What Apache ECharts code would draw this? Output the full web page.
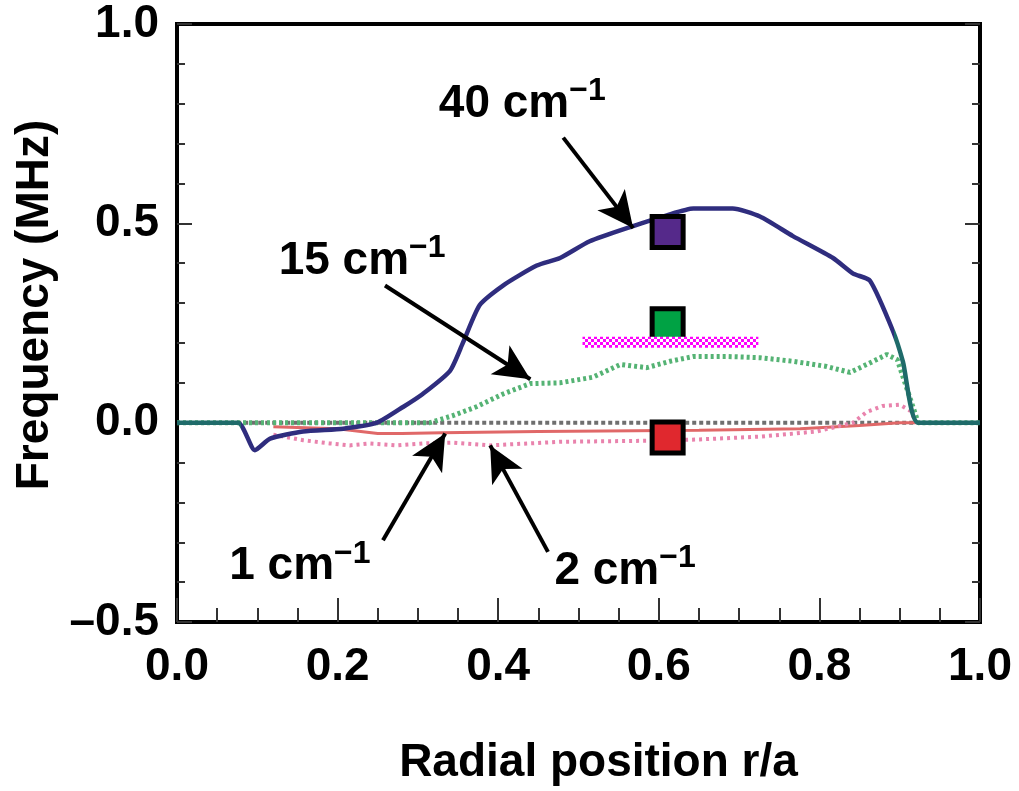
<!DOCTYPE html>
<html>
<head>
<meta charset="utf-8">
<script src="https://cdn.jsdelivr.net/npm/echarts@6/dist/echarts.min.js"></script>
<style>html,body{margin:0;padding:0;background:#fff;}#c{width:1019px;height:791px;}</style>
</head>
<body>
<div id="c"></div>
<script>
// ---- data ----
var k40X = [0, 0.076, 0.097, 0.116, 0.157, 0.207, 0.249, 0.282, 0.306, 0.34, 0.356, 0.377, 0.406, 0.448, 0.477, 0.514, 0.568, 0.61, 0.643, 0.692, 0.726, 0.767, 0.817, 0.842, 0.863, 0.892, 0.904, 0.923, 1.0];
var k40Y = [0, 0, -0.069, -0.04, -0.022, -0.015, 0, 0.04, 0.072, 0.13, 0.2, 0.295, 0.344, 0.394, 0.413, 0.455, 0.493, 0.52, 0.537, 0.537, 0.517, 0.468, 0.413, 0.374, 0.356, 0.228, 0.153, 0, 0];
var k15X = [0, 0.315, 0.344, 0.373, 0.406, 0.44, 0.477, 0.518, 0.552, 0.585, 0.614, 0.643, 0.685, 0.726, 0.767, 0.809, 0.838, 0.859, 0.884, 0.897, 0.923, 1.0];
var k15Y = [0, 0, 0.018, 0.04, 0.072, 0.098, 0.1, 0.114, 0.146, 0.138, 0.154, 0.166, 0.166, 0.163, 0.154, 0.141, 0.126, 0.146, 0.171, 0.158, 0, 0];
var k2X = [0.12, 0.157, 0.19, 0.215, 0.24, 0.274, 0.306, 0.344, 0.39, 0.477, 0.6, 0.651, 0.726, 0.797, 0.842, 0.859, 0.879, 0.9, 0.913, 0.921];
var k2Y = [-0.03, -0.044, -0.052, -0.057, -0.052, -0.057, -0.052, -0.05, -0.057, -0.048, -0.045, -0.042, -0.035, -0.022, 0, 0.027, 0.042, 0.045, 0.03, 0];
var k1X = [0.12, 0.2, 0.25, 0.28, 0.33, 0.45, 0.65, 0.776, 0.85, 0.9, 0.92];
var k1Y = [-0.01, -0.015, -0.027, -0.027, -0.025, -0.022, -0.019, -0.015, -0.007, 0, 0];
var baseX = [0.075, 0.92];
var baseY = [0, 0];
var squareX = [0.611, 0.611, 0.611];
var squareY = [0.478, 0.247, -0.037];
var squareColors = ['#55298a', '#00a244', '#e0282e'];
var bandX = [0.505, 0.724];
var bandY = [0.202, 0.202];
var labelTexts = ['40', '15', '1', '2'];
var labelX = [0.43, 0.2305, 0.153, 0.558];
var labelY = [0.807, 0.413, -0.354, -0.366];
var arrowFrom = [[0.481, 0.715], [0.259, 0.344], [0.2565, -0.295], [0.462, -0.324]];
var arrowTo = [[0.568, 0.488], [0.44, 0.109], [0.334, -0.027], [0.39, -0.057]];

function zip(a, b) { return a.map(function (v, i) { return [v, b[i]]; }); }

// checkerboard pattern for the magenta band
var pc = document.createElement('canvas');
pc.width = 6; pc.height = 6;
var pctx = pc.getContext('2d');
pctx.fillStyle = '#ffffff'; pctx.fillRect(0, 0, 6, 6);
pctx.fillStyle = '#ff00ff';
pctx.fillRect(0, 0, 3, 3); pctx.fillRect(3, 3, 3, 3);

var FONT = "'Liberation Sans', Arial, sans-serif";

var chart = echarts.init(document.getElementById('c'), null, { renderer: 'canvas' });

var tickStyle = { color: '#333', width: 2 };
var option = {
  animation: false,
  backgroundColor: '#ffffff',
  grid: { left: 177, right: 39, top: 24, bottom: 156, show: true, borderColor: '#000', borderWidth: 4, backgroundColor: 'transparent' },
  xAxis: [{
    type: 'value', min: 0, max: 1, interval: 0.2, position: 'bottom',
    axisLine: { show: true, onZero: false, lineStyle: { color: '#000', width: 4 } },
    axisTick: { show: true, inside: true, length: 24, lineStyle: tickStyle },
    minorTick: { show: true, splitNumber: 4, length: 14, lineStyle: tickStyle },
    splitLine: { show: false },
    axisLabel: {
      margin: 22, color: '#000', fontFamily: FONT, fontWeight: 'bold', fontSize: 46,
      formatter: function (v) { return v.toFixed(1); }
    },
    name: 'Radial position r/a', nameLocation: 'middle', nameGap: 118,
    nameTextStyle: { color: '#000', fontFamily: FONT, fontWeight: 'bold', fontSize: 46, padding: [0, 0, 0, 40] }
  }, {
    type: 'value', min: 0, max: 1, position: 'top',
    axisLine: { show: true, onZero: false, lineStyle: { color: '#000', width: 4 } },
    axisTick: { show: false }, axisLabel: { show: false }, splitLine: { show: false }
  }],
  yAxis: [{
    type: 'value', min: -0.5, max: 1, interval: 0.5, position: 'left',
    axisLine: { show: true, onZero: false, lineStyle: { color: '#000', width: 4 } },
    axisTick: { show: true, inside: true, length: 15, lineStyle: tickStyle },
    minorTick: { show: true, splitNumber: 5, length: 8, lineStyle: tickStyle },
    splitLine: { show: false },
    axisLabel: {
      margin: 18, color: '#000', fontFamily: FONT, fontWeight: 'bold', fontSize: 46,
      formatter: function (v) { return v < 0 ? '\u2013' + Math.abs(v).toFixed(1) : v.toFixed(1); }
    },
    name: 'Frequency (MHz)', nameLocation: 'middle', nameGap: 118, nameRotate: 90,
    nameTextStyle: { color: '#000', fontFamily: FONT, fontWeight: 'bold', fontSize: 46, padding: [0, 0, 0, 36] }
  }, {
    type: 'value', min: -0.5, max: 1, interval: 0.5, position: 'right',
    axisLine: { show: true, onZero: false, lineStyle: { color: '#000', width: 4 } },
    axisTick: { show: true, inside: true, length: 15, lineStyle: tickStyle },
    minorTick: { show: true, splitNumber: 5, length: 8, lineStyle: tickStyle },
    splitLine: { show: false }, axisLabel: { show: false }
  }],
  visualMap: [{
    show: false, type: 'piecewise', seriesIndex: 4, dimension: 0,
    pieces: [
      { lt: 0.08, color: '#1f6b6a' },
      { gte: 0.08, lt: 0.893, color: '#2f2d7e' },
      { gte: 0.893, color: '#1f6b6a' }
    ]
  }],
  series: [
    { name: 'baseline', type: 'line', data: zip(baseX, baseY), symbol: 'none',
      lineStyle: { color: '#6f6f6f', width: 4, type: [4, 3] }, z: 1 },
    { name: '1 cm-1', type: 'line', data: zip(k1X, k1Y), symbol: 'none',
      lineStyle: { color: '#e06868', width: 3 }, z: 2 },
    { name: '2 cm-1', type: 'line', data: zip(k2X, k2Y), symbol: 'none',
      lineStyle: { color: '#e983ad', width: 4, type: [3, 4] }, z: 2 },
    { name: '15 cm-1', type: 'line', data: zip(k15X, k15Y), symbol: 'none',
      lineStyle: { color: '#55b374', width: 5, type: [3, 3] }, z: 3 },
    { name: '40 cm-1', type: 'line', data: zip(k40X, k40Y), symbol: 'none', smooth: 0.2,
      lineStyle: { width: 4.5 }, z: 4 },
    { name: 'band', type: 'line', data: zip(bandX, bandY), symbol: 'none',
      lineStyle: { color: { image: pc, repeat: 'repeat' }, width: 11, cap: 'butt' }, z: 6 },
    { name: 'squares', type: 'scatter', symbol: 'rect', symbolSize: 31, z: 5,
      data: squareX.map(function (x, i) {
        return { value: [x, squareY[i]], itemStyle: { color: squareColors[i], borderColor: '#000', borderWidth: 5, opacity: 1 } };
      }) },
    { name: 'annotations', type: 'scatter', symbolSize: 1, z: 10,
      itemStyle: { color: 'rgba(0,0,0,0)', opacity: 1 },
      data: labelX.map(function (x, i) { return { value: [x, labelY[i]], name: labelTexts[i] }; }),
      label: {
        show: true, position: 'inside', color: '#000', opacity: 1, textBorderWidth: 0,
        formatter: function (p) { return '{n|' + p.name + ' cm}{s|\u22121}'; },
        rich: {
          n: { fontFamily: FONT, fontWeight: 'bold', fontSize: 46, color: '#000', verticalAlign: 'bottom', lineHeight: 52, textBorderWidth: 0 },
          s: { fontFamily: FONT, fontWeight: 'bold', fontSize: 32, color: '#000', verticalAlign: 'top', lineHeight: 52, textBorderWidth: 0 }
        }
      },
      markLine: {
        silent: true, symbol: ['none', 'arrow'], symbolSize: [26, 36],
        lineStyle: { color: '#000', width: 4, type: 'solid', opacity: 1 },
        label: { show: false },
        data: arrowFrom.map(function (f, i) { return [{ coord: f }, { coord: arrowTo[i] }]; })
      }
    }
  ]
};
chart.setOption(option);
</script>
</body>
</html>
